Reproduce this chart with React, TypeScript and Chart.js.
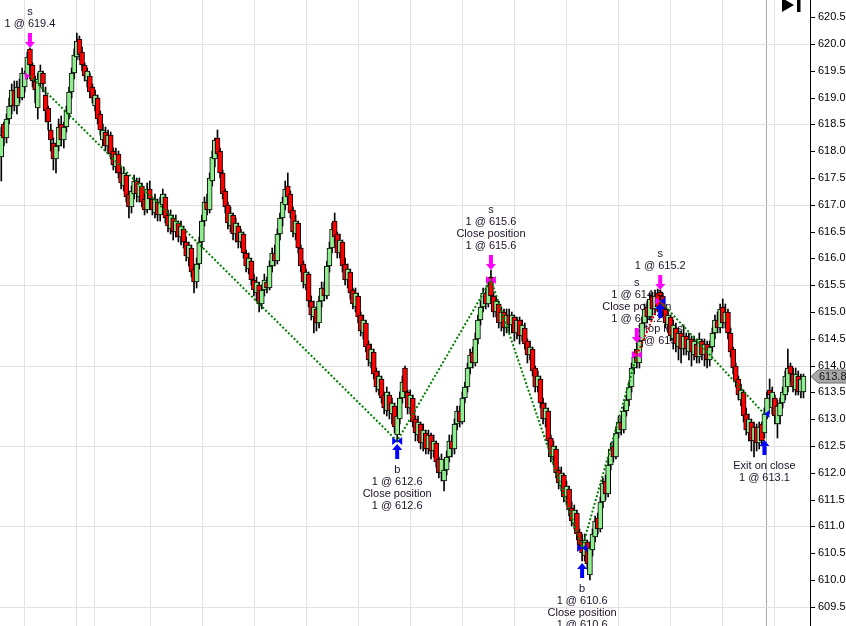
import React, { useEffect, useRef } from 'react';
import { Chart, registerables } from 'chart.js';

Chart.register(...registerables);

// ---------- price bars (one entry per bar) ----------
const O = [
  617.9, 618.5, 618.25, 618.6, 618.85, 619.15, 618.85, 619.2, 619.0, 619.2,
  619.4, 619.9, 619.6, 619.3, 618.8, 619.25, 619.45, 619.05, 618.8, 618.4,
  618.15, 617.85, 618.1, 618.5, 618.2, 618.45, 618.7, 619.1, 619.45, 619.75,
  620.1, 619.85, 619.6, 619.3, 619.4, 619.2, 618.85, 619.0, 618.7, 618.2,
  618.35, 618.1, 618.3, 618.0, 617.7, 617.95, 617.6, 617.35, 617.55, 617.2,
  616.95, 617.2, 617.45, 617.15, 617.35, 617.1, 616.9, 617.3, 617.1, 616.85,
  617.05, 616.8, 617.0, 617.15, 616.8, 616.55, 616.75, 616.5, 616.65, 616.4,
  616.55, 616.3, 616.0, 616.2, 615.8, 615.55, 615.9, 616.3, 616.7, 617.05,
  616.9, 617.45, 617.85, 618.25, 618.0, 617.6, 617.25, 617.0, 616.6, 616.8,
  616.45, 616.6, 616.3, 616.45, 616.1, 615.8, 615.95, 615.6, 615.35, 615.5,
  615.15, 615.4, 615.55, 615.45, 615.85, 616.1, 615.95, 616.45, 616.75, 617.0,
  617.35, 617.2, 616.9, 616.45, 616.65, 616.2, 615.9, 615.5, 615.7, 615.2,
  614.9, 615.05, 614.8, 615.2, 615.45, 615.3, 615.85, 616.2, 616.7, 616.45,
  616.1, 616.3, 615.9, 615.6, 615.75, 615.4, 615.1, 615.3, 614.95, 614.6,
  614.8, 614.4, 614.05, 614.25, 613.9, 613.55, 613.75, 613.45, 613.15, 613.45,
  613.1, 613.25, 612.7, 613.0, 613.4, 613.95, 613.5, 613.2, 613.4, 613.0,
  612.7, 612.9, 612.55, 612.75, 612.45, 612.7, 612.4, 612.55, 612.25, 612.0,
  611.85, 612.05, 612.3, 612.6, 612.45, 612.9, 613.15, 612.95, 613.4, 613.6,
  613.95, 614.25, 614.05, 614.5, 614.85, 615.1, 615.35, 615.15, 615.65, 615.3,
  615.0, 615.15, 614.8, 615.0, 614.7, 614.95, 614.75, 614.9, 614.6, 614.85,
  614.55, 614.7, 614.45, 614.2, 614.3, 613.95, 613.6, 613.75, 613.3, 613.0,
  613.15, 612.65, 612.3, 612.45, 612.05, 611.75, 611.95, 611.55, 611.7, 611.35,
  611.05, 611.25, 610.9, 610.75, 610.45, 610.7, 610.1, 610.55, 610.8, 611.15,
  610.95, 611.45, 611.85, 611.6, 612.15, 612.5, 612.3, 612.75, 612.95, 612.8,
  613.15, 613.35, 613.6, 613.95, 614.3, 614.05, 614.45, 614.8, 615.1, 614.9,
  615.3, 615.05, 615.35, 615.38, 615.3, 615.05, 614.75, 614.9, 614.5, 614.7,
  614.35, 614.6, 614.3, 614.55, 614.25, 614.5, 614.2, 614.4, 614.15, 614.45,
  614.2, 614.4, 614.1, 614.35, 614.6, 614.85, 614.7, 615.1, 614.8, 615.0,
  614.6, 614.3, 614.0, 613.75, 613.35, 613.5, 613.1, 612.75, 612.95, 612.6,
  612.85, 612.55, 612.9, 612.75, 613.1, 613.55, 613.2, 613.4, 612.9, 613.05,
  613.3, 613.45, 613.6, 614.0, 613.85, 613.55, 613.8, 613.5, 613.5,
];

const H = [
  618.45, 618.55, 618.7, 619.0, 619.25, 619.3, 619.3, 619.35, 619.55, 619.5,
  619.85, 619.93, 619.65, 619.4, 619.45, 619.6, 619.5, 619.2, 618.85, 618.5,
  618.25, 618.15, 618.6, 618.65, 618.55, 618.85, 619.2, 619.55, 619.9, 620.2,
  620.15, 619.95, 619.65, 619.55, 619.45, 619.25, 619.15, 619.05, 618.75, 618.5,
  618.45, 618.4, 618.35, 618.05, 618.05, 618.0, 617.7, 617.7, 617.6, 617.25,
  617.35, 617.55, 617.5, 617.5, 617.4, 617.2, 617.4, 617.45, 617.15, 617.2,
  617.1, 617.15, 617.3, 617.2, 616.9, 616.9, 616.8, 616.8, 616.7, 616.7,
  616.6, 616.4, 616.3, 616.25, 615.9, 616.0, 616.4, 616.8, 617.15, 617.2,
  617.6, 618.0, 618.25, 618.4, 618.05, 617.65, 617.3, 617.05, 616.95, 616.85,
  616.75, 616.65, 616.55, 616.5, 616.15, 616.1, 616.0, 615.7, 615.65, 615.55,
  615.5, 615.7, 615.65, 615.95, 616.2, 616.25, 616.55, 616.85, 617.15, 617.45,
  617.6, 617.25, 616.95, 616.8, 616.7, 616.25, 615.95, 615.8, 615.75, 615.3,
  615.2, 615.1, 615.3, 615.55, 615.55, 615.95, 616.3, 616.65, 616.85, 616.5,
  616.45, 616.35, 616.0, 615.9, 615.8, 615.45, 615.45, 615.35, 615.0, 614.95,
  614.85, 614.45, 614.4, 614.3, 613.95, 613.9, 613.8, 613.5, 613.6, 613.5,
  613.4, 613.3, 613.15, 613.5, 613.8, 614.0, 613.55, 613.55, 613.45, 613.05,
  613.05, 612.95, 612.9, 612.8, 612.8, 612.75, 612.7, 612.6, 612.3, 612.35,
  612.15, 612.4, 612.7, 612.7, 613.0, 613.25, 613.25, 613.5, 613.7, 614.05,
  614.3, 614.35, 614.6, 614.95, 615.2, 615.45, 615.45, 615.6, 615.78, 615.35,
  615.3, 615.2, 615.1, 615.05, 615.05, 615.05, 615.0, 614.95, 614.9, 614.9,
  614.85, 614.8, 614.5, 614.45, 614.35, 614.0, 613.9, 613.8, 613.4, 613.3,
  613.2, 612.7, 612.6, 612.5, 612.1, 612.1, 612.0, 611.85, 611.75, 611.45,
  611.4, 611.3, 610.95, 610.85, 610.85, 610.75, 610.7, 610.95, 611.2, 611.25,
  611.55, 611.9, 611.95, 612.25, 612.55, 612.6, 612.85, 613.05, 613.05, 613.25,
  613.45, 613.7, 614.05, 614.25, 614.42, 614.55, 614.9, 615.15, 615.2, 615.35,
  615.38, 615.4, 615.42, 615.4, 615.35, 615.1, 615.05, 614.95, 614.85, 614.8,
  614.7, 614.65, 614.75, 614.6, 614.6, 614.55, 614.55, 614.5, 614.6, 614.5,
  614.5, 614.45, 614.45, 614.7, 614.95, 615.0, 615.15, 615.25, 615.15, 615.05,
  614.7, 614.35, 614.05, 613.8, 613.65, 613.55, 613.2, 613.1, 613.0, 612.95,
  612.9, 612.95, 612.95, 613.2, 613.5, 613.75, 613.6, 613.45, 613.35, 613.4,
  613.6, 613.9, 614.3, 614.05, 613.95, 613.95, 613.9, 613.85, 613.85,
];

const L = [
  617.45, 618.1, 618.15, 618.5, 618.7, 618.75, 618.7, 618.9, 618.95, 619.1,
  619.35, 619.35, 619.2, 618.9, 618.6, 619.2, 619.1, 618.55, 618.4, 618.0,
  617.65, 617.6, 618.0, 618.1, 618.05, 618.35, 618.6, 619.0, 619.35, 619.7,
  619.7, 619.5, 619.3, 619.2, 619.0, 618.9, 618.75, 618.5, 618.3, 618.1,
  618.0, 617.95, 617.85, 617.65, 617.6, 617.5, 617.3, 617.25, 617.05, 616.75,
  616.85, 617.1, 617.05, 617.05, 616.95, 616.8, 616.85, 617.0, 616.8, 616.75,
  616.7, 616.7, 616.9, 616.65, 616.5, 616.45, 616.35, 616.4, 616.3, 616.25,
  616.2, 615.95, 615.85, 615.65, 615.35, 615.45, 615.8, 616.2, 616.6, 616.8,
  616.85, 617.35, 617.7, 617.9, 617.5, 617.1, 616.85, 616.55, 616.5, 616.35,
  616.3, 616.2, 616.2, 616.0, 615.75, 615.7, 615.5, 615.3, 615.2, 615.0,
  615.05, 615.3, 615.35, 615.4, 615.75, 615.85, 615.9, 616.35, 616.6, 616.9,
  617.05, 616.75, 616.4, 616.35, 616.1, 615.75, 615.45, 615.4, 615.1, 614.85,
  614.6, 614.65, 614.7, 615.1, 615.2, 615.25, 615.75, 616.1, 616.3, 616.0,
  616.0, 615.75, 615.5, 615.45, 615.25, 615.05, 615.0, 614.8, 614.55, 614.5,
  614.25, 614.0, 613.95, 613.75, 613.5, 613.45, 613.3, 613.1, 613.05, 613.0,
  612.9, 612.75, 612.57, 612.9, 613.3, 613.4, 613.1, 613.1, 612.85, 612.6,
  612.6, 612.45, 612.4, 612.35, 612.35, 612.25, 612.3, 612.1, 611.9, 611.85,
  611.65, 611.95, 612.2, 612.3, 612.35, 612.8, 612.85, 612.9, 613.3, 613.5,
  613.85, 613.95, 614.0, 614.4, 614.75, 615.0, 615.05, 615.1, 615.2, 614.9,
  614.9, 614.7, 614.65, 614.55, 614.6, 614.6, 614.6, 614.45, 614.5, 614.4,
  614.45, 614.3, 614.05, 614.1, 613.8, 613.5, 613.5, 613.2, 612.9, 612.85,
  612.5, 612.2, 612.15, 611.9, 611.7, 611.65, 611.45, 611.4, 611.2, 611.0,
  610.95, 610.75, 610.55, 610.35, 610.35, 610.2, 610.0, 610.45, 610.7, 610.85,
  610.9, 611.35, 611.5, 611.55, 612.05, 612.2, 612.25, 612.65, 612.7, 612.75,
  613.05, 613.25, 613.5, 613.85, 613.95, 613.95, 614.35, 614.7, 614.8, 614.85,
  614.95, 614.95, 615.0, 615.2, 614.9, 614.7, 614.6, 614.45, 614.3, 614.25,
  614.1, 614.05, 614.2, 614.2, 614.1, 614.0, 614.1, 614.05, 614.05, 614.1,
  614.0, 613.95, 614.0, 614.25, 614.5, 614.6, 614.6, 614.7, 614.7, 614.5,
  614.15, 613.85, 613.6, 613.35, 613.25, 612.95, 612.7, 612.6, 612.4, 612.3,
  612.4, 612.45, 612.5, 612.65, 613.0, 613.35, 613.1, 612.9, 612.65, 612.9,
  613.2, 613.35, 613.5, 613.7, 613.5, 613.45, 613.45, 613.4, 613.4,
];

const C = [
  618.3, 618.25, 618.6, 618.85, 619.15, 618.85, 619.2, 619.0, 619.45, 619.45,
  619.75, 619.6, 619.3, 619.15, 619.35, 619.5, 619.25, 618.75, 618.55, 618.2,
  617.85, 618.1, 618.45, 618.2, 618.45, 618.75, 619.1, 619.45, 619.8, 620.05,
  619.8, 619.6, 619.4, 619.5, 619.1, 619.0, 619.05, 618.6, 618.4, 618.4,
  618.1, 618.3, 617.95, 617.75, 617.95, 617.6, 617.4, 617.6, 617.15, 616.95,
  617.25, 617.45, 617.2, 617.4, 617.05, 616.9, 617.3, 617.1, 616.9, 617.1,
  616.8, 617.05, 617.2, 616.75, 616.6, 616.8, 616.5, 616.7, 616.4, 616.6,
  616.3, 616.05, 616.25, 615.75, 615.55, 615.9, 616.3, 616.7, 617.05, 616.9,
  617.5, 617.9, 618.2, 617.95, 617.6, 617.2, 616.95, 616.65, 616.85, 616.45,
  616.65, 616.3, 616.5, 616.1, 615.85, 616.0, 615.6, 615.4, 615.55, 615.15,
  615.4, 615.6, 615.45, 615.85, 616.1, 615.95, 616.45, 616.75, 617.05, 617.3,
  617.15, 616.85, 616.5, 616.7, 616.2, 615.85, 615.55, 615.75, 615.2, 614.95,
  615.1, 614.8, 615.2, 615.45, 615.3, 615.85, 616.2, 616.55, 616.4, 616.1,
  616.35, 615.85, 615.6, 615.8, 615.35, 615.15, 615.35, 614.9, 614.65, 614.85,
  614.35, 614.1, 614.3, 613.85, 613.6, 613.8, 613.4, 613.2, 613.5, 613.15,
  613.3, 612.85, 613.05, 613.4, 613.7, 613.5, 613.2, 613.45, 612.95, 612.75,
  612.95, 612.55, 612.8, 612.45, 612.7, 612.4, 612.6, 612.2, 612.0, 612.25,
  612.05, 612.3, 612.6, 612.45, 612.9, 613.15, 612.95, 613.4, 613.6, 613.95,
  614.2, 614.05, 614.5, 614.85, 615.1, 615.35, 615.15, 615.5, 615.3, 615.0,
  615.2, 614.8, 615.0, 614.7, 614.95, 614.75, 614.95, 614.6, 614.85, 614.55,
  614.75, 614.4, 614.2, 614.35, 613.9, 613.6, 613.8, 613.3, 613.0, 613.2,
  612.6, 612.3, 612.5, 612.0, 611.8, 612.0, 611.55, 611.75, 611.3, 611.1,
  611.3, 610.85, 610.65, 610.5, 610.75, 610.3, 610.6, 610.85, 611.1, 610.95,
  611.45, 611.8, 611.6, 612.15, 612.45, 612.3, 612.75, 612.95, 612.8, 613.15,
  613.35, 613.6, 613.95, 614.15, 614.05, 614.45, 614.8, 615.05, 614.9, 615.25,
  615.05, 615.3, 615.1, 615.3, 615.0, 614.8, 614.95, 614.55, 614.75, 614.4,
  614.6, 614.3, 614.55, 614.3, 614.5, 614.25, 614.45, 614.15, 614.5, 614.2,
  614.4, 614.1, 614.35, 614.6, 614.85, 614.7, 615.05, 614.8, 615.0, 614.6,
  614.25, 613.95, 613.7, 613.45, 613.55, 613.05, 612.8, 613.0, 612.6, 612.85,
  612.55, 612.85, 612.6, 613.1, 613.4, 613.45, 613.5, 613.05, 613.25, 613.3,
  613.5, 613.8, 613.95, 613.85, 613.6, 613.85, 613.5, 613.75, 613.8,
];

// ---------- axes ----------
const Y_MIN = 609.14;
const Y_MAX = 620.82;
const Y_TICKS = [
  609.5, 610.0, 610.5, 611.0, 611.5, 612.0, 612.5, 613.0, 613.5, 614.0, 614.5,
  615.0, 615.5, 616.0, 616.5, 617.0, 617.5, 618.0, 618.5, 619.0, 619.5, 620.0, 620.5,
];
const Y_GRID = [609.5, 611.0, 612.5, 614.0, 615.5, 617.0, 618.5, 620.0];
const X_MIN = -0.5;
const X_MAX = 310.5;
const X_GRID = [8.8, 28.8, 35.7, 57.2, 77.2, 97.1, 117.1, 137.1, 157.0, 177.0, 197.0, 216.9, 236.9, 256.9, 276.8, 293.7, 296.8];
const X_GRID_DARK = 293.7;

// ---------- trades ----------
const TRADE_BARS = [11, 152, 188, 223, 244, 253, 293];
const TRADE_PRICES = [619.4, 612.6, 615.6, 610.6, 614.2, 615.2, 613.1];
const LOSING_SEGMENT = 4;

const SIGNAL_BARS = [11, 152, 188, 223, 244, 253, 253, 293];
const SIGNAL_PRICES = [619.4, 612.6, 615.6, 610.6, 614.2, 615.2, 615.2, 613.1];
const SIGNAL_SIDES = ['sell', 'buy', 'sell', 'buy', 'sell', 'buy', 'sell', 'buy'];
const SIGNAL_KINDS = ['entry', 'reverse', 'reverse', 'reverse', 'reverse', 'exit', 'entry', 'exit'];
const SIGNAL_TEXT = [
  ['s', '1 @ 619.4'],
  ['b', '1 @ 612.6', 'Close position', '1 @ 612.6'],
  ['s', '1 @ 615.6', 'Close position', '1 @ 615.6'],
  ['b', '1 @ 610.6', 'Close position', '1 @ 610.6'],
  ['s', '1 @ 614.2', 'Close position', '1 @ 614.2'],
  ['Stop loss', '1 @ 615.2'],
  ['s', '1 @ 615.2'],
  ['Exit on close', '1 @ 613.1'],
];

const FONT = '"Liberation Sans", Arial, sans-serif';
const UP = '#90ee90';
const DOWN = '#ff0000';
const SELL_COLOR = '#ff00ff';
const BUY_COLOR = '#0000ff';
const TEXT_COLOR = '#1e1028';
const GRID_COLOR = '#e2e2e2';

const ARROW_LEN = 15;
const SELL_GAP = 0;
const BUY_GAP = 2;

function drawArrow(ctx: CanvasRenderingContext2D, cx: number, tipY: number, dir: number, color: string) {
  const headH = 6, headW = 5, shaftW = 2;
  const tailY = tipY - dir * ARROW_LEN;
  const neckY = tipY - dir * headH;
  ctx.fillStyle = color;
  ctx.beginPath();
  ctx.moveTo(cx, tipY);
  ctx.lineTo(cx + headW, neckY);
  ctx.lineTo(cx + shaftW, neckY);
  ctx.lineTo(cx + shaftW, tailY);
  ctx.lineTo(cx - shaftW, tailY);
  ctx.lineTo(cx - shaftW, neckY);
  ctx.lineTo(cx - headW, neckY);
  ctx.closePath();
  ctx.fill();
}

function drawTri(ctx: CanvasRenderingContext2D, cx: number, py: number, side: number, color: string) {
  ctx.fillStyle = color;
  ctx.beginPath();
  ctx.moveTo(cx, py);
  ctx.lineTo(cx + side * 5, py - 4);
  ctx.lineTo(cx + side * 5, py + 4);
  ctx.closePath();
  ctx.fill();
}

function signalGeometry(chart: any, k: number) {
  const xs = chart.scales.x;
  const ys = chart.scales.y;
  const bar = SIGNAL_BARS[k];
  const cx = xs.getPixelForValue(bar);
  const sell = SIGNAL_SIDES[k] === 'sell';
  const tipY = sell ? ys.getPixelForValue(H[bar]) - SELL_GAP : ys.getPixelForValue(L[bar]) + BUY_GAP;
  return { cx, sell, tipY, py: ys.getPixelForValue(SIGNAL_PRICES[k]) };
}

const labelsPlugin = {
  id: 'tradeLabels',
  beforeDatasetsDraw(chart: any) {
    const ctx = chart.ctx as CanvasRenderingContext2D;
    ctx.save();
    ctx.font = `11px ${FONT}`;
    ctx.fillStyle = TEXT_COLOR;
    ctx.textAlign = 'center';
    ctx.textBaseline = 'middle';
    SIGNAL_TEXT.forEach((lines, k) => {
      const g = signalGeometry(chart, k);
      const n = lines.length;
      lines.forEach((t, j) => {
        const y = g.sell
          ? g.tipY - ARROW_LEN - 9 - (n - 1 - j) * 12
          : g.tipY + ARROW_LEN + 11 + j * 12;
        ctx.fillText(t, g.cx, y);
      });
    });
    ctx.restore();
  },
};

const markersPlugin = {
  id: 'tradeMarkers',
  afterDatasetsDraw(chart: any) {
    const ctx = chart.ctx as CanvasRenderingContext2D;
    ctx.save();
    SIGNAL_BARS.forEach((_, k) => {
      const g = signalGeometry(chart, k);
      const color = g.sell ? SELL_COLOR : BUY_COLOR;
      const kind = SIGNAL_KINDS[k];
      if (kind === 'entry' || kind === 'reverse') drawTri(ctx, g.cx, g.py, -1, color);
      if (kind === 'exit' || kind === 'reverse') drawTri(ctx, g.cx, g.py, 1, color);
      drawArrow(ctx, g.cx, g.tipY, g.sell ? 1 : -1, color);
    });
    ctx.restore();
  },
};

const chromePlugin = {
  id: 'chrome',
  afterDraw(chart: any) {
    const ctx = chart.ctx as CanvasRenderingContext2D;
    const ys = chart.scales.y;
    const right = chart.chartArea.right;
    const last = C[C.length - 1];
    const yp = Math.round(ys.getPixelForValue(last)) + 0.5;
    ctx.save();
    ctx.beginPath();
    ctx.moveTo(right + 1, yp);
    ctx.lineTo(right + 8, yp - 6.5);
    ctx.lineTo(chart.width + 2, yp - 6.5);
    ctx.lineTo(chart.width + 2, yp + 6.5);
    ctx.lineTo(right + 8, yp + 6.5);
    ctx.closePath();
    ctx.fillStyle = '#a8a8a8';
    ctx.fill();
    ctx.strokeStyle = '#6a6a6a';
    ctx.lineWidth = 1;
    ctx.stroke();
    ctx.fillStyle = '#141414';
    ctx.font = `11px ${FONT}`;
    ctx.textAlign = 'left';
    ctx.textBaseline = 'middle';
    ctx.fillText(last.toFixed(1), right + 9, yp);
    ctx.fillStyle = '#000';
    ctx.beginPath();
    ctx.moveTo(782, -2);
    ctx.lineTo(794, 5);
    ctx.lineTo(782, 12);
    ctx.closePath();
    ctx.fill();
    ctx.fillRect(797, 0, 3.5, 12);
    ctx.restore();
  },
};

function isYGrid(v: number) {
  return Y_GRID.some((g) => Math.abs(g - v) < 1e-6);
}

function zeroPadding(s: any) {
  s.paddingLeft = 0;
  s.paddingRight = 0;
  s.paddingTop = 0;
  s.paddingBottom = 0;
}

export default function App() {
  const ref = useRef<HTMLCanvasElement>(null);

  useEffect(() => {
    document.body.style.margin = '0';
    const idx = C.map((_, i) => i);
    const wickData = idx.map((i) => ({ x: i, y: [L[i], H[i]] }));
    const bodyData = idx.map((i) => ({ x: i, y: [O[i], C[i]] }));
    const bodyColors = idx.map((i) => (C[i] >= O[i] ? UP : DOWN));
    const tradeLine = TRADE_BARS.map((b, k) => ({ x: b, y: TRADE_PRICES[k] }));

    const chart = new Chart(ref.current as HTMLCanvasElement, {
      type: 'bar',
      data: {
        datasets: [
          {
            type: 'line',
            data: tradeLine,
            borderColor: '#008000',
            borderWidth: 2,
            borderDash: [2, 2],
            pointRadius: 0,
            fill: false,
            tension: 0,
            order: 0,
            segment: {
              borderColor: (c: any) => (c.p0DataIndex === LOSING_SEGMENT ? '#e00000' : undefined),
            },
          } as any,
          {
            type: 'bar',
            data: bodyData,
            backgroundColor: bodyColors,
            borderColor: '#000',
            borderWidth: 1,
            borderSkipped: false,
            barThickness: 5,
            grouped: false,
            order: 1,
          } as any,
          {
            type: 'bar',
            data: wickData,
            backgroundColor: '#000',
            borderWidth: 0,
            barThickness: 1,
            grouped: false,
            order: 2,
          } as any,
        ],
      },
      options: {
        responsive: false,
        animation: false,
        layout: { padding: 0, autoPadding: false },
        plugins: {
          legend: { display: false },
          tooltip: { enabled: false },
        },
        scales: {
          x: {
            type: 'linear',
            min: X_MIN,
            max: X_MAX,
            offset: false,
            position: 'bottom',
            afterBuildTicks: (s: any) => {
              s.ticks = X_GRID.map((v) => ({ value: v }));
            },
            afterFit: (s: any) => {
              s.height = 0;
              zeroPadding(s);
            },
            ticks: { display: false },
            grid: {
              offset: false,
              color: (c: any) => (c.tick && Math.abs(c.tick.value - X_GRID_DARK) < 1e-6 ? '#a9a9a9' : GRID_COLOR),
              drawTicks: false,
              lineWidth: 1,
            },
            border: { display: false },
          },
          y: {
            type: 'linear',
            position: 'right',
            min: Y_MIN,
            max: Y_MAX,
            alignToPixels: true,
            afterBuildTicks: (s: any) => {
              s.ticks = Y_TICKS.map((v) => ({ value: v }));
            },
            afterFit: (s: any) => {
              s.width = 36;
              zeroPadding(s);
            },
            ticks: {
              autoSkip: false,
              padding: 3,
              color: '#000',
              font: { family: FONT, size: 11 },
              callback: (v: any) => Number(v).toFixed(1),
            },
            grid: {
              color: (c: any) => (c.tick && isYGrid(c.tick.value) ? GRID_COLOR : 'rgba(0,0,0,0)'),
              tickColor: '#000',
              tickLength: 5,
              drawTicks: true,
              lineWidth: 1,
            },
            border: { display: true, color: '#000', width: 1 },
          },
        },
      } as any,
      plugins: [labelsPlugin, markersPlugin, chromePlugin],
    });
    return () => chart.destroy();
  }, []);

  return (
    <div style={{ position: 'absolute', left: 0, top: 0, width: 846, height: 626, background: '#fff' }}>
      <canvas ref={ref} width={846} height={626} style={{ display: 'block', width: 846, height: 626 }} />
    </div>
  );
}
